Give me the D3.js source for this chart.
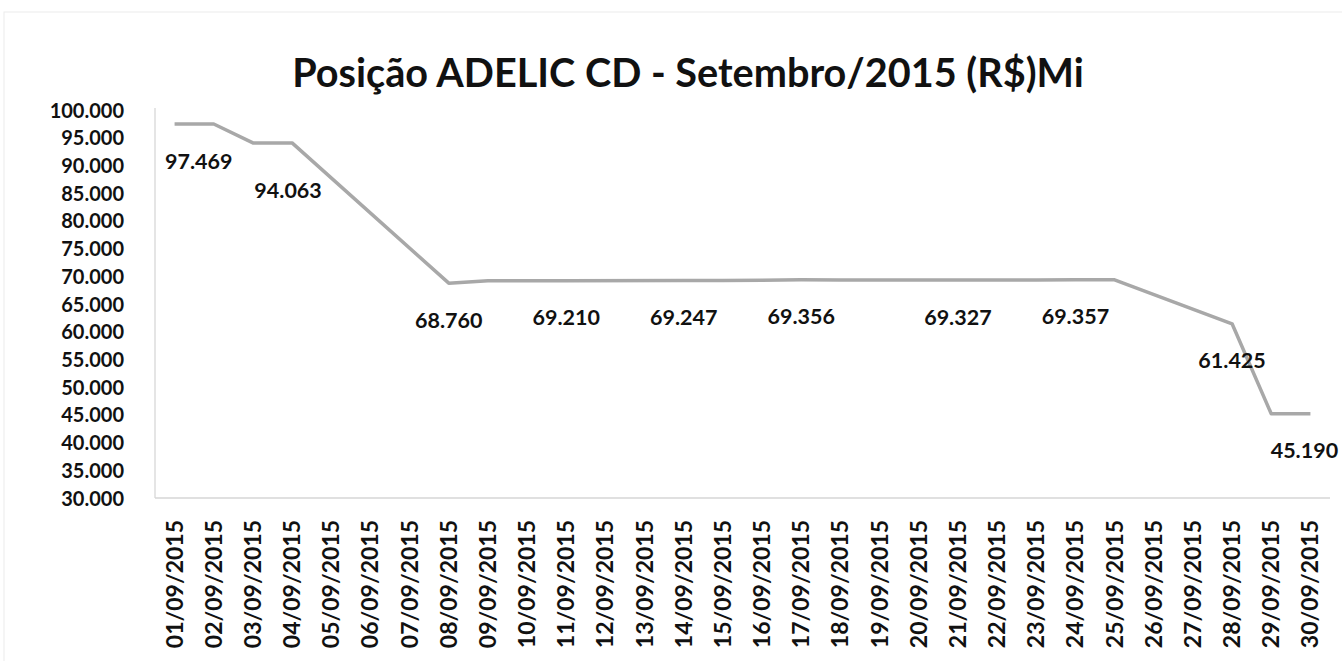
<!DOCTYPE html>
<html><head><meta charset="utf-8">
<script src="https://cdn.jsdelivr.net/npm/d3@7/dist/d3.min.js"></script>
<style>html,body{margin:0;padding:0;background:#fff;overflow:hidden}</style>
</head><body>
<svg id="chart" width="1342" height="661"></svg>
<script>
const titleText = "Posição ADELIC CD - Setembro/2015 (R$)Mi";
const dates = ["01/09/2015","02/09/2015","03/09/2015","04/09/2015","05/09/2015","06/09/2015","07/09/2015","08/09/2015","09/09/2015","10/09/2015",
  "11/09/2015","12/09/2015","13/09/2015","14/09/2015","15/09/2015","16/09/2015","17/09/2015","18/09/2015","19/09/2015","20/09/2015",
  "21/09/2015","22/09/2015","23/09/2015","24/09/2015","25/09/2015","26/09/2015","27/09/2015","28/09/2015","29/09/2015","30/09/2015"];
const values = [97469, 97469, 94063, 94063, null, null, null, 68760, 69190, 69200,
  69210, null, null, 69247, 69260, 69300, 69356, 69330, null, null,
  69327, 69340, 69350, 69357, 69360, null, null, 61425, 45190, 45190];
const labelledDates = ["02/09/2015","04/09/2015","08/09/2015","11/09/2015","14/09/2015","17/09/2015","21/09/2015","24/09/2015","28/09/2015","30/09/2015"];
const yTicks = [30000,35000,40000,45000,50000,55000,60000,65000,70000,75000,80000,85000,90000,95000,100000];

const svg = d3.select("#chart");
const font = "Lato, 'Open Sans', sans-serif";
const L = 155, R = 1330, T = 110, B = 498;

svg.append("rect").attr("x",4).attr("y",12).attr("width",1350).attr("height",660)
  .attr("fill","none").attr("stroke","#ececec").attr("stroke-width",1);

const x = d3.scaleBand().domain(dates).range([L, R]);
const y = d3.scaleLinear().domain([30000, 100000]).range([B, T]);
const fmt = v => d3.format(",.0f")(v).replace(/,/g, ".");

// axis lines
svg.append("line").attr("x1",L).attr("x2",L).attr("y1",T-2).attr("y2",B).attr("stroke","#dcdcdc").attr("stroke-width",1.5);
svg.append("line").attr("x1",L).attr("x2",R).attr("y1",B).attr("y2",B).attr("stroke","#d6d6d6").attr("stroke-width",1.5);

// y axis labels
const yAxis = d3.axisLeft(y).tickValues(yTicks).tickSize(0).tickPadding(0).tickFormat(fmt);
const gy = svg.append("g").attr("transform", `translate(${124},0)`).call(yAxis);
gy.select(".domain").remove();
gy.selectAll("text").attr("font-family", font).attr("font-weight", 700).attr("font-size", 20).attr("fill", "#111").attr("dy","0.35em");

// x axis labels
const xAxis = d3.axisBottom(x).tickSize(0).tickPadding(0);
const gx = svg.append("g").attr("transform", `translate(0,${520})`).call(xAxis);
gx.select(".domain").remove();
gx.selectAll("text").attr("font-family", font).attr("font-weight", 700).attr("font-size", 23).attr("fill", "#111")
  .attr("text-anchor","end").attr("transform","rotate(-90)").attr("x",0).attr("y",0).attr("dy","0.35em");

// line
const pts = dates.map((d,i) => ({d, v: values[i]})).filter(p => p.v !== null);
const line = d3.line().x(p => x(p.d) + x.bandwidth()/2).y(p => y(p.v));
svg.append("path").datum(pts).attr("d", line).attr("fill","none")
  .attr("stroke","#a8a8a8").attr("stroke-width",3.5).attr("stroke-linejoin","round");

// data labels
const special = {"02/09/2015": {dx: -15, dy: 0}, "04/09/2015": {dx: -4, dy: 11}, "30/09/2015": {dx: -6, dy: 0}};
svg.append("g").selectAll("text").data(pts.filter(p => labelledDates.includes(p.d))).join("text")
  .attr("x", p => x(p.d) + x.bandwidth()/2 + ((special[p.d]||{}).dx||0))
  .attr("y", p => y(p.v) + 37 + ((special[p.d]||{}).dy||0))
  .attr("dy","0.35em").attr("text-anchor","middle")
  .attr("font-family", font).attr("font-weight", 700).attr("font-size", 21.5).attr("fill", "#111")
  .text(p => fmt(p.v));

// title
const t = svg.append("text").attr("x", 688).attr("y", 87).attr("text-anchor","middle")
  .attr("font-family", font).attr("font-weight", 700).attr("font-size", 36).attr("fill", "#111").text(titleText);
const w = t.node().getComputedTextLength();
t.attr("font-size", 36 * 792 / w);
</script>
</body></html>
